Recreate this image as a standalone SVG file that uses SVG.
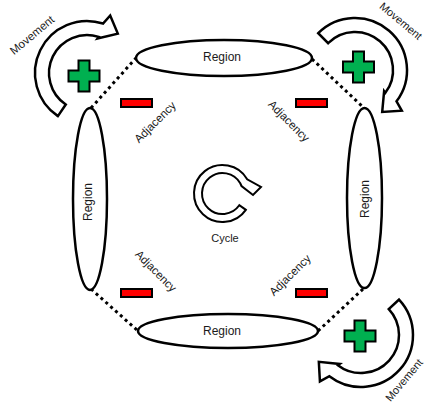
<svg xmlns="http://www.w3.org/2000/svg" width="425" height="414" viewBox="0 0 425 414">
<style>
.rg{fill:#fff;stroke:#000;stroke-width:2.5}
.dot{fill:none;stroke:#000;stroke-width:3;stroke-dasharray:3 3.5}
.arw{fill:#fff;stroke:#000;stroke-width:2.5;stroke-linejoin:miter}
.cyc{fill:#fff;stroke:#000;stroke-width:2;stroke-linejoin:miter}
.minus{fill:#f00;stroke:#000;stroke-width:2}
.plus{fill:#00b050;stroke:#000;stroke-width:2}
text{font-family:"Liberation Sans",Arial,sans-serif;fill:#1a1a1a;text-anchor:middle}
.t12{font-size:12px}
.t11{font-size:11.5px}
.tm{font-size:11px}
.tc{font-size:11px}
</style>
<defs>
<path id="plusShape" d="M-5.5,-15.5 h11 v10 h10 v11 h-10 v10 h-11 v-10 h-10 v-11 h10 z"/>
</defs>
<g id="connectors">
<line class="dot" x1="91" y1="108" x2="136" y2="58"/>
<line class="dot" x1="312" y1="59" x2="364" y2="108"/>
<line class="dot" x1="91" y1="289" x2="138" y2="331"/>
<line class="dot" x1="363" y1="289" x2="318" y2="331"/>
</g>
<g id="region-top">
<ellipse class="rg" cx="224" cy="58" rx="88" ry="18"/>
<text class="t12" x="222" y="57" dy=".35em">Region</text>
</g>
<g id="region-bottom">
<ellipse class="rg" cx="228" cy="331" rx="90" ry="17"/>
<text class="t12" x="222" y="331" dy=".35em">Region</text>
</g>
<g id="region-left">
<ellipse class="rg" cx="90" cy="199" rx="17" ry="91"/>
<text class="t12" transform="translate(88,202) rotate(-90)" dy=".35em">Region</text>
</g>
<g id="region-right">
<ellipse class="rg" cx="364.5" cy="198" rx="17.5" ry="90"/>
<text class="t12" transform="translate(365,199) rotate(-90)" dy=".35em">Region</text>
</g>
<g id="movement-tl">
<path class="arw" d="M57.92,116.11 A52,52 0 0 1 103.07,23.54 L110.2,15.5 L117.8,33.6 L97.53,38.57 L98.74,36.86 A38,38 0 0 0 65.75,104.5 Z"/>
<use href="#plusShape" class="plus" x="84" y="76"/>
<text class="t11" transform="translate(32,35) rotate(-40)" dy=".35em">Movement</text>
</g>
<g id="movement-tr">
<path class="arw" d="M318.23,33.23 A52,52 0 0 1 396.53,101.29 L401.79,110.68 L382.2,111.9 L384.12,91.16 L385.35,92.87 A38,38 0 0 0 328.13,43.13 Z"/>
<use href="#plusShape" class="plus" x="358.5" y="67"/>
<text class="tm" transform="translate(401,21) rotate(40)" dy=".35em">Movement</text>
</g>
<g id="movement-br">
<path class="arw" d="M399.03,299.54 A52,52 0 0 1 329.34,376.25 L319.92,381.44 L318.83,361.87 L339.59,363.94 L337.87,365.15 A38,38 0 0 0 388.79,309.08 Z"/>
<use href="#plusShape" class="plus" x="360" y="336"/>
<text class="tm" transform="translate(404,380) rotate(-50)" dy=".35em">Movement</text>
</g>
<g id="adjacency-tl">
<rect class="minus" x="121" y="99" width="31" height="8"/>
<text class="t11" transform="translate(155,122) rotate(-45)" dy=".35em">Adjacency</text>
</g>
<g id="adjacency-tr">
<rect class="minus" x="296" y="99" width="31" height="8"/>
<text class="t11" transform="translate(289,121) rotate(45)" dy=".35em">Adjacency</text>
</g>
<g id="adjacency-bl">
<rect class="minus" x="121" y="289" width="31" height="8"/>
<text class="t11" transform="translate(156,271) rotate(45)" dy=".35em">Adjacency</text>
</g>
<g id="adjacency-br">
<rect class="minus" x="296" y="289" width="31" height="8"/>
<text class="t11" transform="translate(290,275) rotate(-45)" dy=".35em">Adjacency</text>
</g>
<g id="cycle">
<path class="cyc" d="M245.85,209.85 A28.5,28.5 0 1 1 247.18,179.25 L261,187 L253,195 L241.5,186 L240.25,183.25 A20.5,20.5 0 1 0 239.29,205.26 Z"/>
<text class="tc" x="225" y="238" dy=".35em">Cycle</text>
</g>
</svg>
